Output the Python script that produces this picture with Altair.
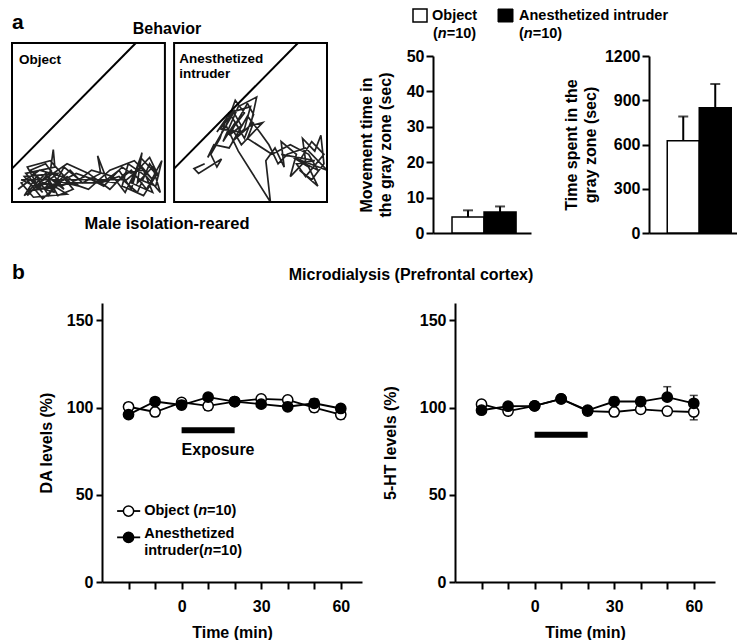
import altair as alt
import pandas as pd

FONT = "Liberation Sans"

# ---------------- data ----------------
groups = ["Object", "Anesthetized intruder"]
movement_mean = [4.5, 5.9]
movement_sem = [1.9, 1.6]
grayzone_mean = [625, 850]
grayzone_sem = [165, 160]
movement_ticks = [0, 10, 20, 30, 40, 50]
grayzone_ticks = [0, 300, 600, 900, 1200]

times = [-20, -10, 0, 10, 20, 30, 40, 50, 60]
da_object = [100.5, 97.5, 103, 101, 103.5, 105, 104.5, 100, 96]
da_object_sem = [2.0, 2.5, 2.0, 2.5, 2.0, 2.0, 2.0, 2.5, 2.5]
da_intruder = [96, 103.5, 101.5, 106, 103.5, 102, 100.5, 102.5, 99.5]
da_intruder_sem = [2.0, 2.0, 2.5, 2.0, 2.0, 2.0, 2.5, 2.5, 2.0]
ht_object = [102, 98, 101, 105, 98, 97.5, 99, 98, 97.5]
ht_object_sem = [2.0, 2.0, 2.0, 2.0, 2.0, 2.5, 2.0, 2.5, 4.5]
ht_intruder = [98.5, 100.8, 101, 105, 98.5, 103.5, 103.5, 106, 102.5]
ht_intruder_sem = [2.0, 2.0, 2.0, 2.0, 2.0, 2.5, 2.5, 6.0, 4.5]
exposure_window = [0, 20]
time_ticks = [-20, -10, 0, 10, 20, 30, 40, 50, 60]
level_ticks = [0, 50, 100, 150]

# arena trajectories (arena units 0-100)
traj_object_x = [4, 12, 20, 9, 28, 27, 24, 36, 14, 6, 18, 33, 40, 30, 22, 11, 26, 38, 46, 58,
                 56, 62, 70, 78, 85, 82, 92, 97, 88, 76, 72, 86, 95, 90, 80, 74, 66, 52, 44, 34,
                 24, 16, 8, 20, 32, 48, 60, 72, 84, 94, 98, 88, 78, 68, 54, 42, 30, 18, 10, 25,
                 38, 50, 64, 80, 92, 85, 75, 6, 15, 28, 12, 22, 34, 26, 44, 36, 20, 8, 30, 16,
                 40, 58, 70, 82, 90, 96, 84, 78, 92, 86, 74, 64, 50, 36, 18, 10, 26]
traj_object_y = [8, 14, 6, 18, 22, 33, 12, 5, 3, 12, 20, 16, 8, 4, 18, 7, 9, 20, 12, 18,
                 29, 14, 20, 8, 31, 12, 22, 6, 16, 24, 10, 4, 18, 28, 18, 6, 16, 20, 14, 22,
                 4, 16, 4, 12, 10, 16, 10, 22, 14, 10, 26, 8, 20, 12, 14, 18, 12, 8, 22, 26,
                 12, 8, 20, 26, 14, 22, 14, 14, 10, 6, 20, 24, 8, 14, 10, 16, 2, 16, 18, 8,
                 12, 12, 16, 6, 24, 16, 28, 12, 6, 20, 18, 8, 18, 24, 12, 4, 20]
traj_intruder_x = [20, 13, 16, 31, 28, 24, 30, 34, 28, 38, 44, 36, 48, 52, 46, 40, 32, 42, 54, 50,
                   58, 44, 38, 46, 40, 34, 42, 63, 60, 66, 72, 70, 80, 76, 86, 84, 92, 96, 98, 90,
                   82, 94, 88, 78, 100, 86, 74, 68, 62, 56, 48, 36, 26, 22, 40, 30, 44, 36, 50,
                   46, 38, 52, 48, 64, 76, 88, 94, 82, 90, 98, 86, 80, 92, 70]
traj_intruder_y = [24, 21, 18, 27, 22, 30, 40, 52, 44, 58, 48, 42, 62, 55, 40, 50, 38, 60, 66, 48,
                   50, 36, 46, 56, 64, 48, 32, 0, 26, 34, 22, 38, 30, 16, 26, 40, 32, 42, 24, 14,
                   20, 10, 22, 28, 20, 34, 30, 24, 36, 44, 54, 34, 36, 28, 58, 46, 44, 56, 60,
                   46, 38, 50, 40, 30, 36, 30, 20, 26, 38, 30, 16, 24, 26, 30]
diag_x = [0, 81]
diag_y = [21, 100]
arena_x0 = [0, 106]
arena_x1 = [100, 206]
arena_titles = ["Object", "Anesthetized", "intruder"]
arena_title_x = [4.6, 109.3, 109.3]
arena_title_y = [89.6, 90.0, 80.6]

ONE = alt.Data(values=[{}])


def label(text, x, y, size=16, style="normal", align="left", baseline="middle"):
    return alt.Chart(ONE).mark_text(
        text=text, font=FONT, fontSize=size, fontWeight="bold", fontStyle=style,
        align=align, baseline=baseline, color="black"
    ).encode(x=alt.value(x), y=alt.value(y))


# ---------------- behaviour arenas ----------------
BX = alt.Scale(domain=[0, 206], nice=False)
BY = alt.Scale(domain=[0, 100], nice=False)
off = arena_x0[1]

traj_df = pd.concat([
    pd.DataFrame({"arena": "o", "i": list(range(len(traj_object_x))),
                  "x": traj_object_x, "y": traj_object_y}),
    pd.DataFrame({"arena": "n", "i": list(range(len(traj_intruder_x))),
                  "x": [v + off for v in traj_intruder_x], "y": traj_intruder_y}),
])
diag_df = pd.DataFrame({"arena": ["o", "o", "n", "n"],
                        "x": [diag_x[0], diag_x[1], diag_x[0] + off, diag_x[1] + off],
                        "y": diag_y + diag_y})
arena_df = pd.DataFrame({"x0": arena_x0, "x1": arena_x1, "y0": [0, 0], "y1": [100, 100]})
atitle_df = pd.DataFrame({"t": arena_titles, "x": arena_title_x, "y": arena_title_y})

bx = alt.X("x:Q", scale=BX, axis=None)
by = alt.Y("y:Q", scale=BY, axis=None)
traj = alt.Chart(traj_df).mark_line(color="#222222", strokeWidth=1.7).encode(
    x=bx, y=by, detail="arena:N", order="i:Q")
diag = alt.Chart(diag_df).mark_line(color="black", strokeWidth=2).encode(
    x=bx, y=by, detail="arena:N")
arenas = alt.Chart(arena_df).mark_rect(fillOpacity=0, stroke="black", strokeWidth=2).encode(
    x=alt.X("x0:Q", scale=BX, axis=None), x2="x1:Q",
    y=alt.Y("y0:Q", scale=BY, axis=None), y2="y1:Q")
atitles = alt.Chart(atitle_df).mark_text(font=FONT, fontSize=13.5, fontWeight="bold",
                                         align="left", baseline="middle", color="black").encode(
    x=bx, y=by, text="t:N")

behavior = alt.layer(
    traj, diag, arenas, atitles,
    label("a", 0, -14, size=21, baseline="alphabetic"),
    label("Behavior", 155, -14.3, align="center"),
    label("Male isolation-reared", 155, 180.7, size=16.5, align="center"),
).properties(width=315, height=159)


# ---------------- bar charts ----------------
def bar_panel(mean, sem, width, ymax, yvals, title, tpad, pad_outer, align_):
    df = pd.DataFrame({"group": groups, "mean": mean,
                       "top": [m + s for m, s in zip(mean, sem)]})
    xenc = alt.X("group:N", sort=groups,
                 scale=alt.Scale(paddingInner=0, paddingOuter=pad_outer, align=align_),
                 axis=alt.Axis(title=None, labels=False, ticks=False))
    ys = alt.Scale(domain=[0, ymax], nice=False)
    yax = alt.Axis(values=yvals, title=title, titlePadding=tpad, titleLineHeight=19,
                   tickSize=7, labelPadding=2, format="d")
    base = alt.Chart(df)
    bars = base.mark_bar(stroke="black", strokeWidth=1.5).encode(
        x=xenc, y=alt.Y("mean:Q", scale=ys, axis=yax),
        fill=alt.Fill("group:N", scale=alt.Scale(domain=groups, range=["white", "black"]),
                      legend=None))
    err = base.mark_rule(color="black", strokeWidth=2).encode(
        x=xenc, y=alt.Y("mean:Q", scale=ys, axis=yax), y2="top:Q")
    cap = base.mark_tick(color="black", thickness=2, size=10, orient="horizontal").encode(
        x=xenc, y=alt.Y("top:Q", scale=ys, axis=yax))
    return alt.layer(err, bars, cap).properties(width=width, height=177)


def n_label(x, y, size=14.5):
    return [label("(", x, y, size=size),
            label("n", x + 0.333 * size, y, size=size, style="italic"),
            label("=10)", x + 0.944 * size, y, size=size)]


# legend sits in a 1px holder chart placed 13px above the bar plots
legend_holder = alt.layer(
    alt.Chart(ONE).mark_rect(fill="white", stroke="black", strokeWidth=1.5).encode(
        x=alt.value(-20), x2=alt.value(-6), y=alt.value(-34), y2=alt.value(-21)),
    alt.Chart(ONE).mark_rect(fill="black", stroke="black", strokeWidth=1).encode(
        x=alt.value(65), x2=alt.value(80), y=alt.value(-34), y2=alt.value(-21)),
    label("Object", -1, -27, size=14.5),
    *n_label(0, -9.3),
    label("Anesthetized intruder", 86, -27, size=14.5),
    *n_label(86, -9.3),
).properties(width=1, height=1)

bar1 = bar_panel(movement_mean, movement_sem, 98, 50, movement_ticks,
                 ["Movement time in", "the gray zone (sec)"], 12.5, 0.53, 0.56)
bar2 = bar_panel(grayzone_mean, grayzone_sem, 88, 1200, grayzone_ticks,
                 ["Time spent in the", "gray zone (sec)"], 6, 0.375, 0.76)

bars_inner = alt.hconcat(bar1, bar2, spacing=118, bounds="flush")
bars_group = alt.vconcat(legend_holder, bars_inner, spacing=12, bounds="flush")
top_row = alt.hconcat(behavior, bars_group, spacing=27)

# ---------------- microdialysis ----------------
XS = alt.Scale(domain=[-30, 68], nice=False)
YS = alt.Scale(domain=[0, 160], nice=False)


def axes(ytitle, tpad):
    xax = alt.Axis(values=time_ticks, labelExpr="datum.value % 30 === 0 ? datum.label : ''",
                   title="Time (min)", tickSize=7, labelPadding=9, titlePadding=10,
                   labelFlush=False)
    yax = alt.Axis(values=level_ticks, title=ytitle, tickSize=6, labelPadding=3,
                   titlePadding=tpad)

    def X(f):
        return alt.X(f, type="quantitative", scale=XS, axis=xax)

    def Y(f):
        return alt.Y(f, type="quantitative", scale=YS, axis=yax)
    return X, Y


def micro_panel(obj, obj_sem, intr, intr_sem, ytitle, tpad, expo_level, extra=()):
    X, Y = axes(ytitle, tpad)
    odf = pd.DataFrame({"time": times, "value": obj,
                        "end": [v - s for v, s in zip(obj, obj_sem)]})
    idf = pd.DataFrame({"time": times, "value": intr,
                        "end": [v + s for v, s in zip(intr, intr_sem)]})
    edf = pd.DataFrame({"t0": [exposure_window[0]], "t1": [exposure_window[1]],
                        "y": [expo_level]})
    layers = []
    for df, fill in ((odf, "white"), (idf, "black")):
        c = alt.Chart(df)
        layers += [
            c.mark_rule(color="black", strokeWidth=1.5).encode(x=X("time"), y=Y("value"), y2="end:Q"),
            c.mark_tick(color="black", thickness=1.5, size=8, orient="horizontal").encode(
                x=X("time"), y=Y("end")),
            c.mark_line(color="black", strokeWidth=1.8).encode(x=X("time"), y=Y("value")),
            c.mark_circle(fill=fill, stroke="black", strokeWidth=1.5, size=105, opacity=1).encode(
                x=X("time"), y=Y("value")),
        ]
    layers.append(alt.Chart(edf).mark_rule(color="black", strokeWidth=6).encode(
        x=X("t0"), x2="t1:Q", y=Y("y")))
    return alt.layer(*layers, *extra).properties(width=260, height=279)


DA_TPAD = 12
X0, Y0 = axes("DA levels (%)", DA_TPAD)
leg_line_df = pd.DataFrame({"x0": [-24.3, -24.3], "x1": [-15.6, -15.6], "y": [40.7, 25.6]})
leg_obj_df = pd.DataFrame({"x": [-20], "y": [40.7]})
leg_int_df = pd.DataFrame({"x": [-20], "y": [25.6]})


def dtext(text, x, y, dx=0, style="normal", size=14.5, baseline="middle"):
    return alt.Chart(pd.DataFrame({"x": [x], "y": [y]})).mark_text(
        text=text, font=FONT, fontSize=size, fontWeight="bold", fontStyle=style,
        align="left", baseline=baseline, dx=dx, color="black").encode(x=X0("x"), y=Y0("y"))


S = 14.5
da_extra = [
    alt.Chart(leg_line_df).mark_rule(color="black", strokeWidth=1.8).encode(
        x=X0("x0"), x2="x1:Q", y=Y0("y")),
    alt.Chart(leg_obj_df).mark_circle(fill="white", stroke="black", strokeWidth=1.5,
                                      size=105, opacity=1).encode(x=X0("x"), y=Y0("y")),
    alt.Chart(leg_int_df).mark_circle(fill="black", stroke="black", strokeWidth=1.5,
                                      size=105, opacity=1).encode(x=X0("x"), y=Y0("y")),
    dtext("Object (", -14.1, 40.7),
    dtext("n", -14.1, 40.7, dx=3.723 * S, style="italic"),
    dtext("=10)", -14.1, 40.7, dx=4.334 * S),
    dtext("Anesthetized", -14.1, 27.3),
    dtext("intruder(", -14.1, 17.8),
    dtext("n", -14.1, 17.8, dx=4.111 * S, style="italic"),
    dtext("=10)", -14.1, 17.8, dx=4.722 * S),
    dtext("Exposure", 0, 72.8, size=16, baseline="alphabetic"),
    label("Microdialysis (Prefrontal cortex)", 309, -23.5, align="center",
          baseline="alphabetic"),
]

da_chart = micro_panel(da_object, da_object_sem, da_intruder, da_intruder_sem,
                       "DA levels (%)", DA_TPAD, 87, da_extra)
ht_chart = micro_panel(ht_object, ht_object_sem, ht_intruder, ht_intruder_sem,
                       "5-HT levels (%)", 21, 84.5)

b_holder = label("b", 0, -24, size=21, baseline="alphabetic").properties(width=1, height=1)
micro_inner = alt.hconcat(da_chart, ht_chart, spacing=93, bounds="flush")
bottom_row = alt.hconcat(b_holder, micro_inner, spacing=89, bounds="flush")

chart = alt.vconcat(top_row, bottom_row, spacing=21, padding=0).configure_view(
    strokeWidth=0
).configure_axis(
    labelFont=FONT, titleFont=FONT, labelFontSize=16, titleFontSize=16,
    labelFontWeight="bold", titleFontWeight="bold", labelColor="black", titleColor="black",
    domainColor="black", tickColor="black", domainWidth=2, tickWidth=2, grid=False
)

chart.save("out.html", embed_options={"renderer": "svg", "actions": False})
